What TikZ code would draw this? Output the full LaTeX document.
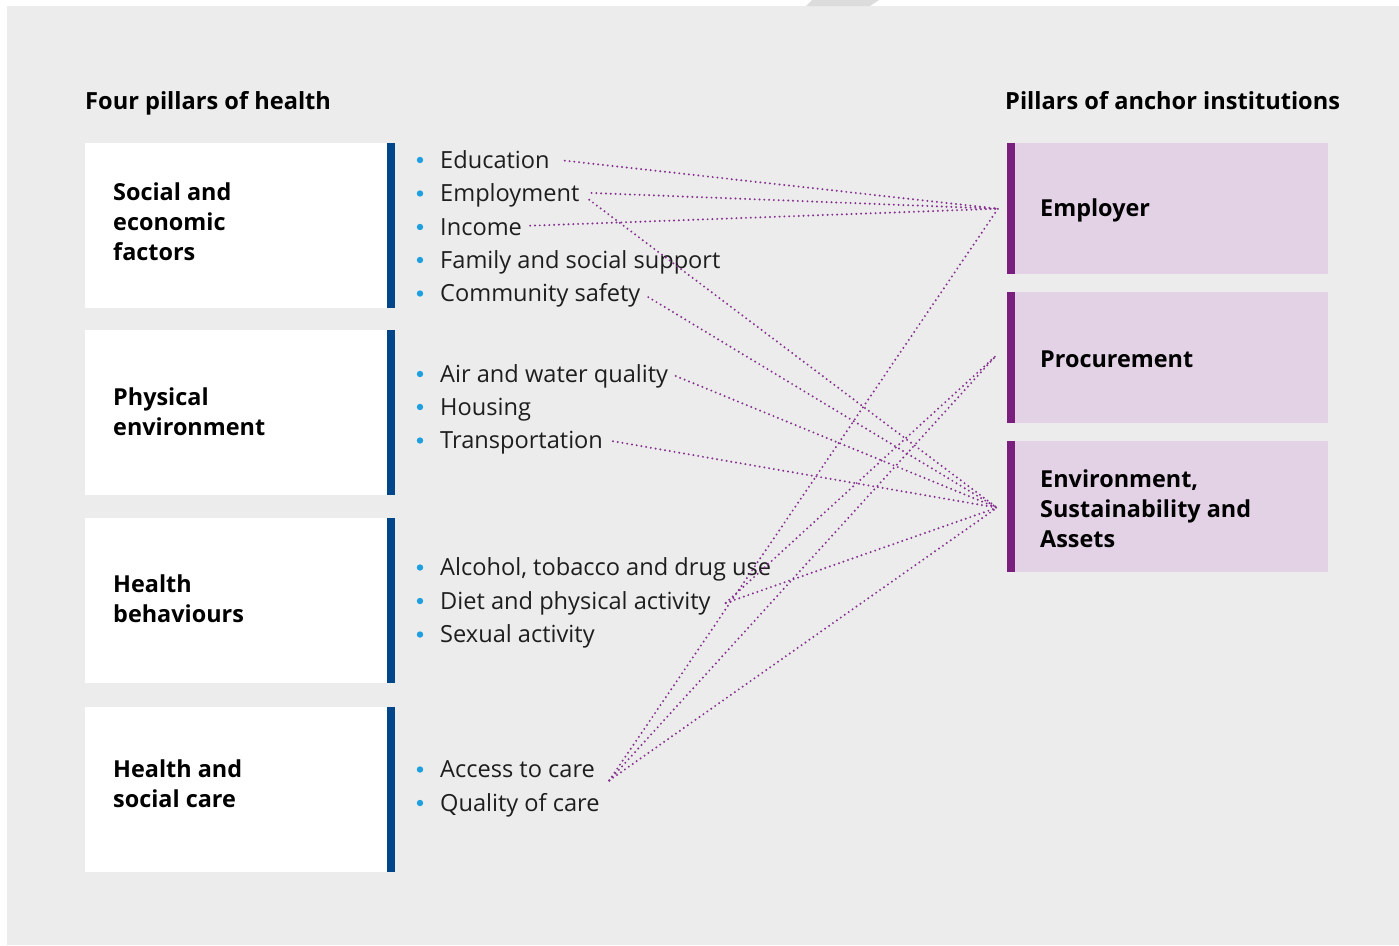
\documentclass[tikz,border=0pt]{standalone}
\usepackage{fontspec}
\setmainfont{Open Sans}
\usetikzlibrary{calc}
\definecolor{bgc}{HTML}{ECECEC}
\definecolor{topgrey}{HTML}{DCDCDC}
\definecolor{barblue}{HTML}{00468B}
\definecolor{lav}{HTML}{E3D2E6}
\definecolor{barpurple}{HTML}{7B1F7E}
\definecolor{dotc}{HTML}{86308F}
\definecolor{bulletc}{HTML}{1E9FE0}
\definecolor{txt}{HTML}{1E1E1E}
\tikzset{
  leftbox/.style={fill=white, draw=none, minimum width=302pt, minimum height=165pt, anchor=north west, inner sep=0pt},
  rightbox/.style={fill=lav, draw=none, minimum width=321pt, minimum height=131pt, anchor=north west, inner sep=0pt},
  title/.style={font=\fontsize{23.6}{30}\selectfont\bfseries, text=black, anchor=base west, inner sep=0pt},
  lbl/.style={font=\fontsize{23.4}{30}\selectfont\bfseries, text=black, align=left, anchor=west, inner sep=0pt},
  item/.style={font=\fontsize{23.6}{30}\selectfont, text=txt, anchor=base west, inner sep=0pt, text height=20pt, text depth=2pt},
  dots/.style={draw=dotc, line width=2.2pt, line cap=round, dash pattern=on 0pt off 4.8pt},
}
\newcommand{\bul}[1]{\fill[bulletc] ($(#1.base west)+(-20,-8)$) circle (3.2pt);}
\begin{document}
\begin{tikzpicture}[x=1pt,y=-1pt]
\useasboundingbox (0,0) rectangle (1399,945);
\fill[white] (0,0) rectangle (1399,945);
\fill[bgc] (7,6) rectangle (1399,945);
\fill[topgrey] (806,6) -- (812,0) -- (879,0) -- (870,6) -- cycle;

% titles
\node[title] (t1) at (85,109) {Four pillars of health};
\node[title] (t2) at (1005,109) {Pillars of anchor institutions};

% left boxes
\node[leftbox] (b1) at (85,143) {};
\node[leftbox] (b2) at (85,330) {};
\node[leftbox] (b3) at (85,518) {};
\node[leftbox] (b4) at (85,707) {};
\foreach \y in {143,330,518,707}{\fill[barblue] (387,\y) rectangle (395,\y+165);}

\node[lbl] (l1) at (113,222) {Social and\\economic\\factors};
\node[lbl] (l2) at (113,412) {Physical\\environment};
\node[lbl] (l3) at (113,599) {Health\\behaviours};
\node[lbl] (l4) at (113,784) {Health and\\social care};

% right boxes
\node[rightbox] (emp) at (1007,143) {};
\node[rightbox] (pro) at (1007,292) {};
\node[rightbox] (esa) at (1007,441) {};
\foreach \y in {143,292,441}{\fill[barpurple] (1007,\y) rectangle (1015,\y+131);}
\node[lbl] (le) at (1040,210) {Employer};
\node[lbl] (lp) at (1040,359) {Procurement};
\node[lbl] (la) at (1040,509) {Environment,\\Sustainability and\\Assets};

% items
\node[item] (edu) at (440,168) {Education};
\node[item] (empl) at (440,201.5) {Employment};
\node[item] (inc) at (440,235) {Income};
\node[item] (fam) at (440,268) {Family and social support};
\node[item] (com) at (440,301.5) {Community safety};
\node[item] (air) at (440,382) {Air and water quality};
\node[item] (hou) at (440,415) {Housing};
\node[item] (tra) at (440,448.5) {Transportation};
\node[item] (alc) at (440,575.5) {Alcohol, tobacco and drug use};
\node[item] (die) at (440,609) {Diet and physical activity};
\node[item] (sex) at (440,642.5) {Sexual activity};
\node[item] (acc) at (440,777.5) {Access to care};
\node[item] (qua) at (440,811) {Quality of care};
\foreach \n in {edu,empl,inc,fam,com,air,hou,tra,alc,die,sex,acc,qua}{\bul{\n}}

% ports
\coordinate (pE) at ($(emp.west)+(-9,0)$);
\coordinate (pP) at ($(pro.west)+(-11,-2)$);
\coordinate (pA) at ($(esa.west)+(-10,1)$);
\coordinate (dP) at ($(die.base east)+(15,-6)$);
\coordinate (aP) at ($(acc.base east)+(14,3)$);

% connectors
\draw[dots, shorten <=15pt] (edu.east) -- (pE);
\draw[dots, shorten <=12pt] (empl.east) -- (pE);
\draw[dots, shorten <=8pt] (inc.east) -- (pE);
\draw[dots] (aP) -- (pE);
\draw[dots, shorten <=12pt] (empl.east) -- (pA);
\draw[dots, shorten <=9pt] (com.east) -- (pA);
\draw[dots, shorten <=8pt] (air.east) -- (pA);
\draw[dots, shorten <=10pt] (tra.east) -- (pA);
\draw[dots] (dP) -- (pA);
\draw[dots] (aP) -- (pA);
\draw[dots] (dP) -- (pP);
\draw[dots] (aP) -- (pP);
\end{tikzpicture}
\end{document}
